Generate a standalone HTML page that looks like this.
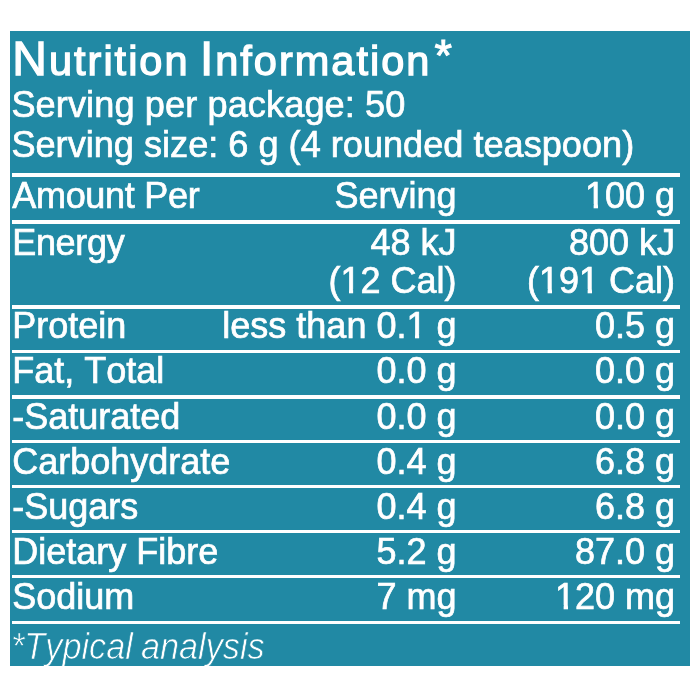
<!DOCTYPE html>
<html lang="en"><head><meta charset="utf-8"><title>Nutrition Information</title>
<style>
html,body{margin:0;padding:0;background:#fff;}
body{width:700px;height:700px;overflow:hidden;position:relative;font-family:"Liberation Sans",sans-serif;}
#panel{position:absolute;left:10px;top:31px;width:680px;height:634.5px;background:#2189a4;overflow:hidden;}
#wrap{position:absolute;left:-10px;top:-31px;width:700px;height:700px;}
.t{position:absolute;color:#fff;font-size:36.0px;line-height:36.0px;white-space:nowrap;font-kerning:none;-webkit-text-stroke:0.7px #fff;}
.m{position:absolute;height:5px;background:#2189a4;}
.hl{position:absolute;left:12px;width:667.5px;background:#fff;}
.title{font-size:41.5px;line-height:60px;left:12.3px;top:29px;-webkit-text-stroke:1.3px #fff;letter-spacing:2.0px;word-spacing:-3.2px;}
.title .w{display:inline-block;}
.title .w::first-letter{font-size:48px;}
.ast{font-size:45px;line-height:45px;left:434.5px;top:33px;-webkit-text-stroke:1px #fff;}
.foot{font-style:italic;left:11px;top:629px;font-size:37px;line-height:36px;letter-spacing:0px;-webkit-text-stroke:0.7px #2189a4;word-spacing:-1.6px;transform-origin:0 0;transform:scaleX(0.926);}
</style></head>
<body>
<div id="panel"><div id="wrap">
<div class="t title"><span class="w">Nutrition</span> <span class="w">Information</span></div>
<div class="t ast">*</div>
<div class="hl" style="top:173px;height:4.2px"></div><div class="hl" style="top:219.6px;height:4.3px"></div><div class="hl" style="top:305.2px;height:3.4px"></div><div class="hl" style="top:350px;height:3.4px"></div><div class="hl" style="top:395.2px;height:3.4px"></div><div class="hl" style="top:440px;height:3.3px"></div><div class="hl" style="top:484.6px;height:3.4px"></div><div class="hl" style="top:529.8px;height:3.3px"></div><div class="hl" style="top:574.8px;height:3.4px"></div><div class="hl" style="top:620.7px;height:3.3px"></div>
<div class="t" style="left:11.4px;top:87.00px;letter-spacing:0.1px;font-size:36.15px;line-height:36.15px">Serving per package: 50</div>
<div class="t" style="left:11.4px;top:127.00px;font-size:36.15px;line-height:36.15px">Serving size: 6 g (4 rounded teaspoon)</div>
<div class="t" style="left:12.2px;top:178.00px;letter-spacing:-0.28px">Amount Per</div>
<div class="t" style="right:243.50px;top:178.00px">Serving</div>
<div class="t" style="right:25.00px;top:178.00px">100 g</div>
<div class="t" style="left:12.2px;top:225.00px;letter-spacing:-0.3px">Energy</div>
<div class="t" style="right:243.50px;top:225.00px">48 kJ</div>
<div class="t" style="right:25.00px;top:225.00px">800 kJ</div>
<div class="t" style="right:243.50px;top:263.00px">(12 Cal)</div>
<div class="t" style="right:25.00px;top:263.00px">(191 Cal)</div>
<div class="t" style="left:12.2px;top:308.00px">Protein</div>
<div class="t" style="right:243.50px;top:308.00px">less than 0.1 g</div>
<div class="t" style="right:25.00px;top:308.00px">0.5 g</div>
<div class="t" style="left:12.2px;top:353.00px">Fat, Total</div>
<div class="t" style="right:243.50px;top:353.00px">0.0 g</div>
<div class="t" style="right:25.00px;top:353.00px">0.0 g</div>
<div class="t" style="left:12.2px;top:399.00px">-Saturated</div>
<div class="t" style="right:243.50px;top:399.00px">0.0 g</div>
<div class="t" style="right:25.00px;top:399.00px">0.0 g</div>
<div class="t" style="left:12.2px;top:444.00px">Carbohydrate</div>
<div class="t" style="right:243.50px;top:444.00px">0.4 g</div>
<div class="t" style="right:25.00px;top:444.00px">6.8 g</div>
<div class="t" style="left:12.2px;top:489.00px">-Sugars</div>
<div class="t" style="right:243.50px;top:489.00px">0.4 g</div>
<div class="t" style="right:25.00px;top:489.00px">6.8 g</div>
<div class="t" style="left:12.2px;top:534.00px">Dietary Fibre</div>
<div class="t" style="right:243.50px;top:534.00px">5.2 g</div>
<div class="t" style="right:25.00px;top:534.00px">87.0 g</div>
<div class="t" style="left:12.2px;top:579.00px">Sodium</div>
<div class="t" style="right:243.50px;top:579.00px">7 mg</div>
<div class="t" style="right:25.00px;top:579.00px">120 mg</div>
<div class="t foot">*Typical analysis</div>
<div class="m" style="left:586px;top:204px;width:7px"></div><div class="m" style="left:593px;top:204px;width:1px;opacity:0.64"></div><div class="m" style="left:598px;top:204px;width:1px;opacity:1.00"></div><div class="m" style="left:599px;top:204px;width:6px"></div><div class="m" style="left:342px;top:289px;width:6px"></div><div class="m" style="left:348px;top:289px;width:1px;opacity:1.00"></div><div class="m" style="left:353px;top:289px;width:1px;opacity:0.88"></div><div class="m" style="left:354px;top:289px;width:6px"></div><div class="m" style="left:540px;top:289px;width:7px"></div><div class="m" style="left:547px;top:289px;width:1px;opacity:0.64"></div><div class="m" style="left:552px;top:289px;width:1px;opacity:1.00"></div><div class="m" style="left:553px;top:289px;width:6px"></div><div class="m" style="left:580px;top:289px;width:7px"></div><div class="m" style="left:587px;top:289px;width:1px;opacity:0.64"></div><div class="m" style="left:592px;top:289px;width:1px;opacity:1.00"></div><div class="m" style="left:593px;top:289px;width:6px"></div><div class="m" style="left:408px;top:334px;width:6px"></div><div class="m" style="left:414px;top:334px;width:1px;opacity:1.00"></div><div class="m" style="left:419px;top:334px;width:1px;opacity:0.88"></div><div class="m" style="left:420px;top:334px;width:6px"></div><div class="m" style="left:556px;top:605px;width:7px"></div><div class="m" style="left:563px;top:605px;width:1px;opacity:0.64"></div><div class="m" style="left:568px;top:605px;width:1px;opacity:1.00"></div><div class="m" style="left:569px;top:605px;width:6px"></div>
</div></div>
</body></html>
